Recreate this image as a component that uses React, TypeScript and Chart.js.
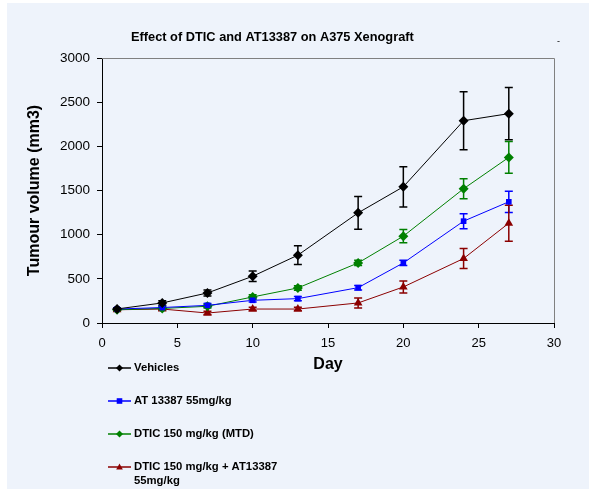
import React, { useEffect, useRef } from "react";
import { Chart, registerables } from "chart.js";

Chart.register(...registerables);

const days = [1, 4, 7, 10, 13, 17, 20, 24, 27];
const vehicles = [159, 227, 340, 529, 768, 1247, 1542, 2290, 2370];
const vehiclesErr = [15, 25, 35, 60, 106, 185, 228, 328, 295];
const at13387 = [158, 175, 200, 257, 276, 400, 680, 1153, 1372];
const at13387Err = [10, 15, 20, 20, 25, 25, 30, 85, 120];
const dtic = [150, 165, 189, 295, 397, 680, 983, 1520, 1875];
const dticErr = [10, 15, 20, 25, 25, 30, 75, 113, 180];
const combo = [150, 158, 113, 158, 158, 227, 408, 730, 1130];
const comboErr = [10, 15, 20, 20, 20, 57, 68, 113, 204];

const seriesNames = [
  "Vehicles",
  "AT 13387 55mg/kg",
  "DTIC 150 mg/kg (MTD)",
  ["DTIC 150 mg/kg + AT13387", "55mg/kg"],
];
const titleText = "Effect of DTIC and AT13387 on A375 Xenograft";
const xTitle = "Day";
const yTitle = "Tumour volume (mm3)";

const FONT = "'Liberation Sans', Arial, sans-serif";
const colors = ["#000000", "#0000ff", "#008000", "#8b0000"];
const styles = ["rectRot", "rect", "rectRot", "triangle"];
const radii = [5, 4, 5, 5];
const values = [vehicles, at13387, dtic, combo];
const errors = [vehiclesErr, at13387Err, dticErr, comboErr];

function drawMarker(ctx: CanvasRenderingContext2D, style: string, x: number, y: number, r: number, color: string) {
  ctx.save();
  ctx.fillStyle = color;
  ctx.beginPath();
  if (style === "rectRot") {
    ctx.moveTo(x, y - r);
    ctx.lineTo(x + r, y);
    ctx.lineTo(x, y + r);
    ctx.lineTo(x - r, y);
  } else if (style === "rect") {
    ctx.rect(x - r * 0.8, y - r * 0.8, r * 1.6, r * 1.6);
  } else {
    ctx.moveTo(x, y - r);
    ctx.lineTo(x + r * 0.95, y + r * 0.7);
    ctx.lineTo(x - r * 0.95, y + r * 0.7);
  }
  ctx.closePath();
  ctx.fill();
  ctx.restore();
}

const errorBarPlugin = {
  id: "errorBars",
  beforeDatasetsDraw(chart: any) {
    const ctx = chart.ctx;
    const xs = chart.scales.x;
    const ys = chart.scales.y;
    ctx.save();
    ctx.lineWidth = 1.5;
    errors.forEach((errs, di) => {
      ctx.strokeStyle = colors[di];
      errs.forEach((e, i) => {
        const x = xs.getPixelForValue(days[i]);
        const yt = ys.getPixelForValue(values[di][i] + e);
        const yb = ys.getPixelForValue(values[di][i] - e);
        ctx.beginPath();
        ctx.moveTo(x, yt);
        ctx.lineTo(x, yb);
        ctx.moveTo(x - 4, yt);
        ctx.lineTo(x + 4, yt);
        ctx.moveTo(x - 4, yb);
        ctx.lineTo(x + 4, yb);
        ctx.stroke();
      });
    });
    ctx.restore();
  },
  afterDraw(chart: any) {
    const ctx = chart.ctx;
    const a = chart.chartArea;
    ctx.save();
    ctx.strokeStyle = "#808080";
    ctx.lineWidth = 1;
    ctx.beginPath();
    ctx.moveTo(a.left, a.top + 0.5);
    ctx.lineTo(a.right + 0.5, a.top + 0.5);
    ctx.lineTo(a.right + 0.5, a.bottom);
    ctx.stroke();
    ctx.fillStyle = "#000";
    ctx.font = `bold 12.8px ${FONT}`;
    ctx.textBaseline = "middle";
    ctx.textAlign = "left";
    ctx.fillText(titleText, 124, 34);
    ctx.font = `9px ${FONT}`;
    ctx.fillText("-", 550, 39);
    ctx.font = `bold 11.3px ${FONT}`;
    seriesNames.forEach((name, i) => {
      const y = 365 + i * 33;
      ctx.strokeStyle = colors[i];
      ctx.lineWidth = 1.5;
      ctx.beginPath();
      ctx.moveTo(101, y);
      ctx.lineTo(124, y);
      ctx.stroke();
      drawMarker(ctx, styles[i], 112.5, y, 3.5, colors[i]);
      ctx.fillStyle = "#000";
      const lines = Array.isArray(name) ? name : [name];
      lines.forEach((t, j) => ctx.fillText(t, 127, y + j * 14));
    });
    ctx.restore();
  },
};

export default function App() {
  const ref = useRef<HTMLCanvasElement>(null);
  useEffect(() => {
    if (!ref.current) return;
    const chart = new Chart(ref.current, {
      type: "line",
      data: {
        datasets: values.map((vals, i) => ({
          label: Array.isArray(seriesNames[i]) ? (seriesNames[i] as string[]).join(" ") : (seriesNames[i] as string),
          data: vals.map((v, j) => ({ x: days[j], y: v })),
          borderColor: colors[i],
          backgroundColor: colors[i],
          borderWidth: 1,
          pointStyle: styles[i] as any,
          pointRadius: radii[i],
          pointBorderWidth: 0,
          pointBackgroundColor: colors[i],
          tension: 0,
        })),
      },
      options: {
        animation: false,
        responsive: false,
        devicePixelRatio: 1,
        layout: { padding: { left: 14, top: 55, right: 35, bottom: 113 } },
        plugins: { legend: { display: false }, title: { display: false }, tooltip: { enabled: false } },
        scales: {
          x: {
            type: "linear",
            min: 0,
            max: 30,
            ticks: { stepSize: 5, color: "#000", font: { family: FONT, size: 13 }, padding: 8, callback: (v: any) => String(v) },
            grid: { drawOnChartArea: false, drawTicks: true, tickLength: 5, color: "#000" },
            border: { display: true, color: "#000", width: 1 },
            title: { display: true, text: xTitle, color: "#000", font: { family: FONT, size: 16, weight: "bold" }, padding: { top: 4, bottom: 2 } },
            afterFit: (s: any) => { s.height = 53; },
          },
          y: {
            type: "linear",
            min: 0,
            max: 3000,
            ticks: { stepSize: 500, color: "#000", font: { family: FONT, size: 13.5 }, padding: 7, callback: (v: any) => String(v) },
            grid: { drawOnChartArea: false, drawTicks: true, tickLength: 5, color: "#000" },
            border: { display: true, color: "#000", width: 1 },
            title: { display: true, text: yTitle, color: "#000", font: { family: FONT, size: 16, weight: "bold" }, padding: { top: 4, bottom: 4 } },
            afterFit: (s: any) => { s.width = 81; },
          },
        },
      },
      plugins: [errorBarPlugin],
    });
    return () => chart.destroy();
  }, []);
  return (
    <div style={{ position: "absolute", left: 7, top: 3, width: 582, height: 486, background: "#eef3fb" }}>
      <canvas ref={ref} width={582} height={486} style={{ display: "block", width: 582, height: 486 }} />
    </div>
  );
}
